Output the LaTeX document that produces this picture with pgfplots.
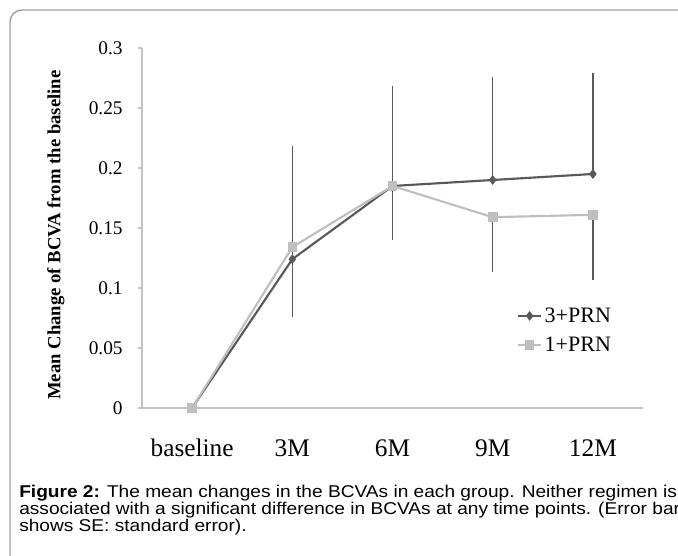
\documentclass[border=0pt]{standalone}
\usepackage{pgfplots}
\pgfplotsset{compat=1.18}
\usepackage{fontspec}
\setmainfont{Liberation Serif}
\newfontfamily\capfont[FakeStretch=1.12]{Liberation Sans}
\definecolor{dk}{HTML}{595959}
\definecolor{lt}{HTML}{BFBFBF}
\definecolor{axc}{HTML}{C4C4C4}
\definecolor{frm}{HTML}{A0A0A0}
\begin{document}
\begin{tikzpicture}[x=0.75pt,y=0.75pt]
\useasboundingbox (0,0) rectangle (678,556);
\clip (0,0) rectangle (678,556);
\draw[frm, line width=1.1pt, rounded corners=9] (10,-30) rectangle (720,546);
\begin{axis}[
  at={(106.5pt,111pt)}, anchor=south west, scale only axis,
  width=375.75pt, height=270pt,
  xmin=-0.5, xmax=4.5, ymin=0, ymax=0.3,
  clip=false,
  axis x line=bottom, axis y line=left,
  axis line style={-, axc, line width=1.3pt},
  xtick={0,1,2,3,4}, xticklabels={baseline,3M,6M,9M,12M},
  major x tick style={draw=none},
  ytick={0,0.05,0.1,0.15,0.2,0.25,0.3},
  tick align=outside, major tick length=3pt,
  y tick style={axc, line width=1pt},
  yticklabel style={font=\fontsize{14.5}{17}\selectfont, /pgf/number format/fixed, /pgf/number format/precision=2, /pgf/number format/assume math mode=true, xshift=-8pt},
  xticklabel style={font=\fontsize{19}{22}\selectfont, yshift=-17pt},
  ylabel={\textbf{Mean Change of BCVA from the baseline}},
  ylabel style={at={(axis description cs:-0.172,0.48)}, anchor=center, rotate=0, font=\fontsize{14}{16}\selectfont},
  legend style={at={(0.7485,0.287)}, anchor=north west, draw=none, fill=none, font=\fontsize{16.5}{19}\selectfont, inner sep=0pt, row sep=5.5pt},
  legend cell align=left,
  legend image code/.code={\draw[mark repeat=2,mark phase=2] plot coordinates {(0pt,0pt)(8.5pt,0pt)(17pt,0pt)};},
]
\addplot[dk, line width=1.6pt, mark=diamond*, mark size=2.4pt, mark options={dk, solid},
  error bars/.cd, y dir=plus, y explicit, error mark=none, error bar style={dk, line width=1.1pt}]
  table[x=x, y=y, y error=e] {
x y e
0 0 0
1 0.124 0.094
2 0.185 0.083
3 0.190 0.086
4 0.195 0.084
};
\addlegendentry{3+PRN}
\addplot[lt, line width=1.6pt, mark=square*, mark size=2.8pt, mark options={lt, solid},
  error bars/.cd, y dir=minus, y explicit, error mark=none, error bar style={dk, line width=1.1pt}]
  table[x=x, y=y, y error=e] {
x y e
0 0 0
1 0.134 0.058
2 0.185 0.045
3 0.159 0.046
4 0.161 0.054
};
\addlegendentry{1+PRN}
\end{axis}
\begin{scope}[font=\capfont\fontsize{12.8}{15}\selectfont]
\node[anchor=base west, inner sep=0] at (19,58) {\textbf{Figure 2:} The mean changes in the BCVAs in each group. Neither regimen is};
\node[anchor=base west, inner sep=0] at (19,41) {associated with a significant difference in BCVAs at any time points. (Error bars};
\node[anchor=base west, inner sep=0] at (19,24) {shows SE: standard error).};
\end{scope}
\end{tikzpicture}
\end{document}
